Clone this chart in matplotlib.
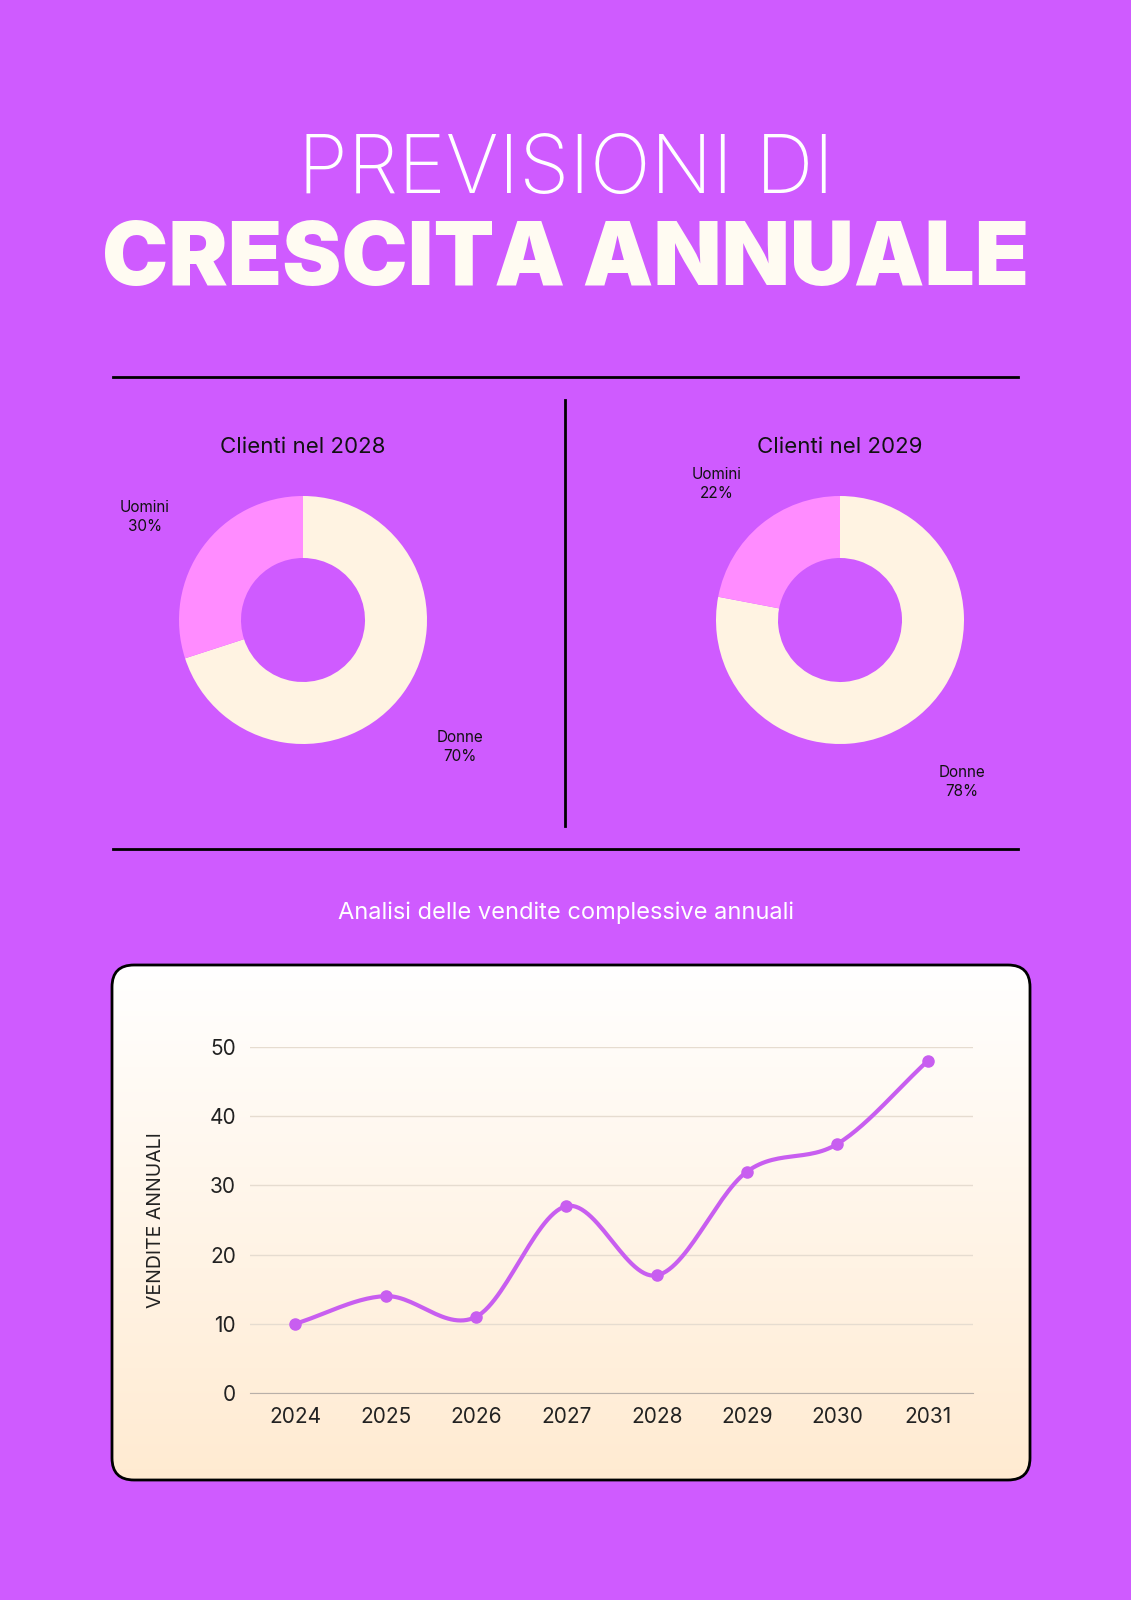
import numpy as np
import matplotlib
matplotlib.use("Agg")
import matplotlib.pyplot as plt
from matplotlib.patches import FancyBboxPatch

years = [2024, 2025, 2026, 2027, 2028, 2029, 2030, 2031]
sales = [10, 14, 11, 27, 17, 32, 36, 48]
pie_labels = ["Donne", "Uomini"]
pie_2028 = [70, 30]
pie_2029 = [78, 22]
yticks = [0, 10, 20, 30, 40, 50]

BG = "#CF5BFF"; CREAM = "#FFF3E2"; PINK = "#FF8CFF"; LINE = "#C85EF0"
W, H = 1131, 1600
fig = plt.figure(figsize=(W/100, H/100), dpi=100, facecolor=BG)
plt.rcParams['font.family'] = ['Inter', 'DejaVu Sans']

def fx(x): return x / W
def fy(y): return 1 - y / H

fig.text(0.5, fy(172), "PREVISIONI DI", ha="center", va="center", color="white",
         fontsize=58, fontweight="light")
fig.text(0.5, fy(262), "CRESCITA ANNUALE", ha="center", va="center", color="#FFFBF2",
         fontsize=64, fontweight="black")

ov = fig.add_axes([0, 0, 1, 1], zorder=-1); ov.set_xlim(0, W); ov.set_ylim(H, 0); ov.axis("off")
ov.plot([113, 1018], [377, 377], color="black", lw=2)
ov.plot([113, 1018], [849, 849], color="black", lw=2)
ov.plot([565, 565], [400, 826], color="black", lw=2)

def donut(cx, title, vals, lab_pos):
    r = 155
    ax = fig.add_axes([fx(cx - r), fy(620 + r), 2*r/W, 2*r/H])
    ax.pie(vals, colors=[CREAM, PINK], startangle=90, counterclock=False,
           wedgeprops=dict(width=0.5, linewidth=0))
    ax.set_aspect("equal")
    fig.text(fx(cx), fy(447), title, ha="center", va="center", fontsize=16, color="#111")
    for (lx, ly), name, v in zip(lab_pos, pie_labels, vals):
        fig.text(fx(lx), fy(ly), f"{name}\n{v}%", ha="center", va="center",
                 fontsize=11, color="#111", linespacing=1.4)

donut(303, "Clienti nel 2028", pie_2028, [(460, 747), (145, 517)])
donut(840, "Clienti nel 2029", pie_2029, [(962, 782), (717, 484)])

fig.text(0.5, fy(913), "Analisi delle vendite complessive annuali", ha="center",
         va="center", fontsize=17, color="white")

# card with gradient
x0, y0, x1, y1 = 112, 965, 1030, 1480
grad = np.linspace(0, 1, 256)[:, None]
c_top = np.array([1, 1, 1]); c_bot = np.array([1, 0.92, 0.82])
img = c_top + (c_bot - c_top) * grad[:, :, None]
im = ov.imshow(img, extent=[x0, x1, y1, y0], aspect="auto", zorder=1)
box = FancyBboxPatch((x0, y0), x1 - x0, y1 - y0, boxstyle="round,pad=0,rounding_size=22",
                     fc="none", ec="black", lw=2, zorder=2)
ov.add_patch(box)
im.set_clip_path(box)
ov.set_xlim(0, W); ov.set_ylim(H, 0)

ax = fig.add_axes([fx(250), fy(1393), (973-250)/W, (1393-1047)/H*50/50])
ax.set_ylim(0, 50); ax.set_xlim(-0.5, 7.5)
ax.patch.set_alpha(0)
x = np.arange(len(years)); y = np.array(sales, float)
# Catmull-Rom smooth curve
m = np.gradient(y, x)
xs, ys = [], []
for i in range(len(x) - 1):
    t = np.linspace(0, 1, 30)
    h00 = 2*t**3 - 3*t**2 + 1; h10 = t**3 - 2*t**2 + t
    h01 = -2*t**3 + 3*t**2; h11 = t**3 - t**2
    xs.extend(x[i] + t); ys.extend(h00*y[i] + h10*m[i] + h01*y[i+1] + h11*m[i+1])
ax.plot(xs, ys, color=LINE, lw=3, zorder=3)
ax.plot(x, y, "o", color=LINE, ms=8, zorder=4)
ax.set_xticks(x); ax.set_xticklabels([str(v) for v in years])
ax.set_yticks(yticks)
ax.grid(axis="y", color="#E6DCD0", lw=1)
ax.set_axisbelow(True)
for s in ["top", "right", "left"]:
    ax.spines[s].set_visible(False)
ax.spines["bottom"].set_color("#B8AFA8")
ax.tick_params(length=0, labelsize=15, colors="#222", pad=10)
ax.set_ylabel("VENDITE ANNUALI", fontsize=14, color="#222", labelpad=32)

fig.savefig("out.png", dpi=100, facecolor=BG)
